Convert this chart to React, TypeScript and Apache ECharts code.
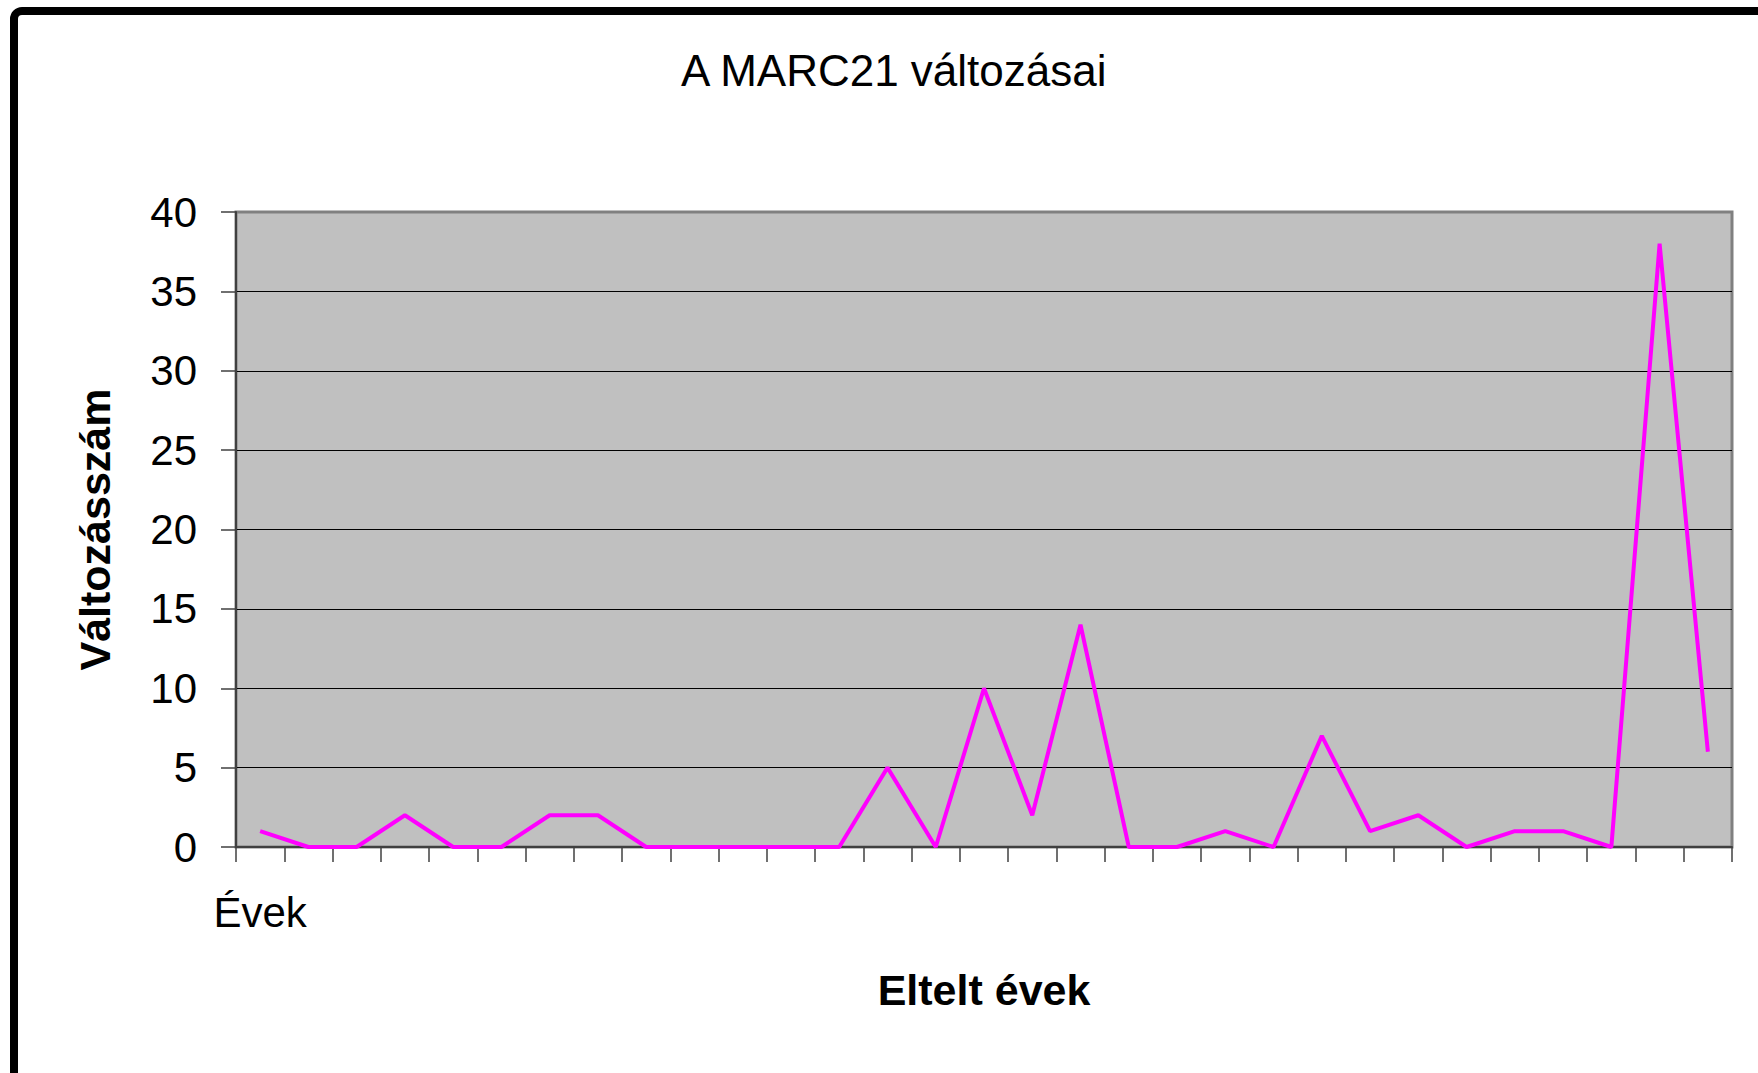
import React, { useEffect, useRef } from "react";
import * as echarts from "echarts";

const categories: string[] = [
  "Évek", "", "", "", "", "", "", "", "", "", "",
  "", "", "", "", "", "", "", "", "", "",
  "", "", "", "", "", "", "", "", "", "",
];
const changes: number[] = [
  1, 0, 0, 2, 0, 0, 2, 2, 0, 0, 0, 0, 0, 5, 0, 10,
  2, 14, 0, 0, 1, 0, 7, 1, 2, 0, 1, 1, 0, 38, 6,
];
const yTicks = { min: 0, max: 40, interval: 5 };
const titleText = "A MARC21 változásai";
const xName = "Eltelt évek";
const yName = "Változásszám";

const FONT = "'Liberation Sans', Arial, sans-serif";

export default function App() {
  const ref = useRef<HTMLDivElement>(null);
  useEffect(() => {
    document.body.style.margin = "0";
    if (!ref.current) return;
    const chart = echarts.init(ref.current, null, { renderer: "svg" });
    chart.setOption({
      animation: false,
      backgroundColor: "#ffffff",
      textStyle: { fontFamily: FONT },
      title: {
        text: titleText,
        left: 681,
        top: 48,
        padding: 0,
        textStyle: { fontFamily: FONT, fontSize: 44, fontWeight: "normal", color: "#000" },
      },
      graphic: [
        {
          type: "rect",
          shape: { x: 14, y: 11, width: 1800, height: 1100, r: 8 },
          style: { fill: "none", stroke: "#000", lineWidth: 8 },
          silent: true,
        },
      ],
      grid: {
        left: 236,
        right: 26,
        top: 212,
        bottom: 226,
        show: true,
        backgroundColor: "#C0C0C0",
        borderColor: "#808080",
        borderWidth: 3,
      },
      xAxis: {
        type: "category",
        data: categories,
        boundaryGap: true,
        name: xName,
        nameLocation: "middle",
        nameGap: 121,
        nameTextStyle: { fontFamily: FONT, fontSize: 43, fontWeight: "bold", color: "#000" },
        axisLine: { show: true, lineStyle: { color: "#404040", width: 2 } },
        axisTick: { show: true, interval: 0, length: 15, lineStyle: { color: "#404040", width: 1.5 } },
        axisLabel: { interval: 0, margin: 44, fontFamily: FONT, fontSize: 42, color: "#000" },
        splitLine: { show: false },
      },
      yAxis: {
        type: "value",
        min: yTicks.min,
        max: yTicks.max,
        interval: yTicks.interval,
        name: yName,
        nameLocation: "middle",
        nameRotate: 90,
        nameGap: 120,
        nameTextStyle: { fontFamily: FONT, fontSize: 43, fontWeight: "bold", color: "#000" },
        axisLine: { show: true, lineStyle: { color: "#404040", width: 2 } },
        axisTick: { show: true, length: 15, lineStyle: { color: "#404040", width: 1.5 } },
        axisLabel: { margin: 39, fontFamily: FONT, fontSize: 42, color: "#000", padding: [0, 0, 9, 0] },
        splitLine: { show: true, showMaxLine: false, lineStyle: { color: "#000", width: 1.2 } },
      },
      series: [
        {
          type: "line",
          data: changes,
          symbol: "none",
          lineStyle: { color: "#FF00FF", width: 4 },
          itemStyle: { color: "#FF00FF" },
        },
      ],
    });
    return () => chart.dispose();
  }, []);
  return <div ref={ref} style={{ width: 1758, height: 1073 }} />;
}
